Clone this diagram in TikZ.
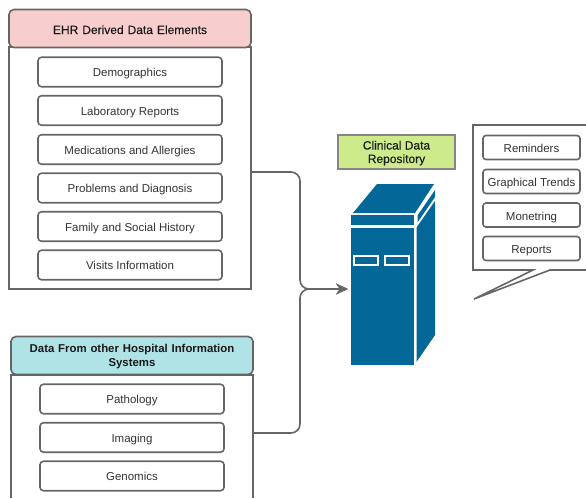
\documentclass[tikz,border=0pt]{standalone}
\usepackage{fontspec}
\setmainfont{Liberation Sans}
\newfontfamily\semib[FakeBold=0.25]{Liberation Sans}
\usetikzlibrary{arrows.meta,calc}
\definecolor{lineg}{HTML}{666666}
\definecolor{txt}{HTML}{333333}
\definecolor{pinkh}{HTML}{F8CECC}
\definecolor{tealh}{HTML}{B0E3E6}
\definecolor{greenh}{HTML}{CDEB8B}
\definecolor{srv}{HTML}{036897}
\tikzset{
  x=1pt,y=-1pt,
  base/.style={line width=1.6pt,draw=lineg,inner sep=0pt,outer sep=0pt,align=center,font=\fontsize{11.5}{14}\selectfont,text=txt},
  itemb/.style={base,rounded corners=3.5pt,minimum width=184pt,minimum height=29.5pt,text height=9pt,text depth=0pt},
  smallb/.style={base,rounded corners=3pt,minimum width=97pt,minimum height=24pt,text height=10pt,text depth=0pt},
  headb/.style={base,rounded corners=5pt,minimum width=242pt,minimum height=38pt,text width=236pt,text=black!90},
  bodyb/.style={base,minimum width=242pt},
  conn/.style={line width=1.6pt,draw=lineg,rounded corners=9pt,-{Stealth[length=12pt,width=11pt]}},
  srvf/.style={fill=srv,draw=none},
}
\begin{document}
\begin{tikzpicture}
\useasboundingbox (0,0) rectangle (586,498);
% EHR group
\node[bodyb,minimum height=242pt] (body1) at (130,168) {};
\node[headb,fill=pinkh,text height=11pt,text depth=0pt,font=\fontsize{12}{14}\selectfont\semib] (head1) at (130,28.5) {EHR Derived Data Elements};
\node[itemb] (d1) at (130,72) {Demographics};
\node[itemb] (d2) at (130,110.5) {Laboratory Reports};
\node[itemb] (d3) at (130,149.5) {Medications and Allergies};
\node[itemb] (d4) at (130,188) {Problems and Diagnosis};
\node[itemb] (d5) at (130,226.5) {Family and Social History};
\node[itemb] (d6) at (130,265) {Visits Information};
% Hospital group
\node[inner sep=0pt,minimum width=242pt,minimum height=123pt] (body2) at (132,436.5) {};
\draw[line width=1.6pt,draw=lineg] (body2.south west) -- (body2.north west) -- (body2.north east) -- (body2.south east);
\node[headb,fill=tealh,font=\fontsize{11.4}{14}\selectfont\bfseries] (head2) at (132,355.5) {\rule{0pt}{11pt}Data From other Hospital Information\\Systems};
\node[itemb] (h1) at (132,399) {Pathology};
\node[itemb] (h2) at (132,437.5) {Imaging};
\node[itemb] (h3) at (132,476) {Genomics};
% Repository
\node[base,draw=lineg!80,fill=greenh,minimum width=117pt,minimum height=34pt,text=black!90,font=\fontsize{12}{13.5}\selectfont\semib] (cdr) at (396.5,152) {\rule{0pt}{11pt}Clinical Data\\Repository};
\fill[srvf] (353,213) -- (377,184) -- (434,184) -- (415,213) -- cycle;
\fill[srvf] (417.5,215.5) -- (435,190) -- (435,197) -- (417.5,222.5) -- cycle;
\fill[srvf] (416.5,227.5) -- (435,201) -- (435,335) -- (416.5,362) -- cycle;
\fill[srvf] (351,215) rectangle (414,225);
\node[srvf,minimum width=63pt,minimum height=137pt,inner sep=0pt,outer sep=0pt] (server) at (382.5,296.5) {};
\foreach \n/\cx in {s1/365.5,s2/396.5}
  \node[draw=white,fill=srv,line width=2pt,minimum width=24pt,minimum height=9pt,inner sep=0pt] (\n) at (\cx,260) {};
% Connectors
\coordinate (junc) at (300,289);
\draw[conn] ([yshift=-4pt]body1.east) -| (junc) -- ([xshift=-3pt,yshift=7.5pt]server.west);
\draw[conn] ([yshift=3.5pt]body2.east) -| (junc) -- ([xshift=-3pt,yshift=7.5pt]server.west);
% Callout
\draw[line width=1.6pt,draw=lineg,fill=white,line join=miter] (590,270) -- (550,270) -- (474,299) -- (533,270) -- (473,270) -- (473,125) -- (590,125);
\node[smallb] (r1) at (531.5,147.5) {Reminders};
\node[smallb] (r2) at (531.5,181.5) {Graphical Trends};
\node[smallb] (r3) at (531.5,215) {Monetring};
\node[smallb] (r4) at (531.5,248.5) {Reports};
\end{tikzpicture}
\end{document}
